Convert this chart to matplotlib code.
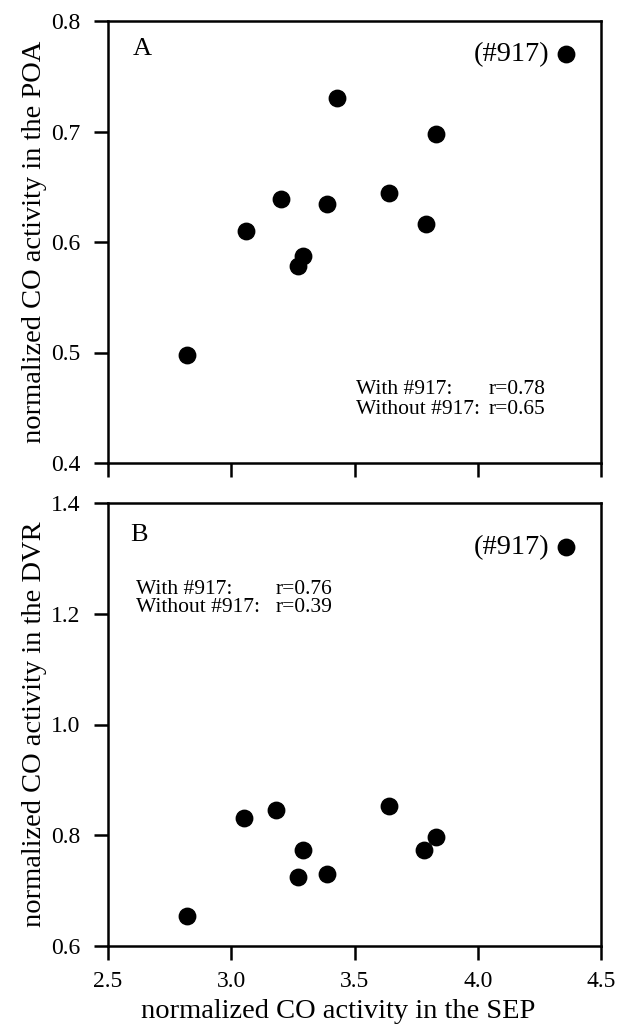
import matplotlib
matplotlib.use("Agg")
import matplotlib.pyplot as plt

# Data
sep_a = [2.82, 3.06, 3.20, 3.27, 3.29, 3.39, 3.43, 3.64, 3.79, 3.83, 4.36]
poa = [0.498, 0.610, 0.639, 0.578, 0.587, 0.634, 0.730, 0.644, 0.616, 0.698, 0.770]
sep_b = [2.82, 3.05, 3.18, 3.27, 3.29, 3.39, 3.64, 3.78, 3.83, 4.36]
dvr = [0.655, 0.832, 0.845, 0.725, 0.773, 0.730, 0.852, 0.773, 0.797, 1.320]
x_ticks = [2.5, 3.0, 3.5, 4.0, 4.5]
x_ticklabels = ["2.5", "3.0", "3.5", "4.0", "4.5"]
ya_ticks = [0.4, 0.5, 0.6, 0.7, 0.8]
ya_ticklabels = ["0.4", "0.5", "0.6", "0.7", "0.8"]
yb_ticks = [0.6, 0.8, 1.0, 1.2, 1.4]
yb_ticklabels = ["0.6", "0.8", "1.0", "1.2", "1.4"]
outlier_label = "(#917)"
stats_a = [("With #917:", "r=0.78"), ("Without #917:", "r=0.65")]
stats_b = [("With #917:", "r=0.76"), ("Without #917:", "r=0.39")]

plt.rcParams['font.family'] = ['Liberation Serif', 'DejaVu Serif']
W, H = 621, 1032
fig = plt.figure(figsize=(W / 100, H / 100), dpi=100)

def px_axes(x0, y0, x1, y1):
    return fig.add_axes([x0 / W, 1 - y1 / H, (x1 - x0) / W, (y1 - y0) / H])

axA = px_axes(108, 21, 601, 463)
axB = px_axes(108, 503, 601, 946)

TICK_FS = 17

def style(ax, yt, ytl, ylim, show_x):
    ax.set_xlim(2.5, 4.5)
    ax.set_ylim(*ylim)
    ax.set_xticks(x_ticks)
    ax.set_yticks(yt)
    ax.set_yticklabels(ytl, fontsize=TICK_FS)
    if show_x:
        ax.set_xticklabels(x_ticklabels, fontsize=TICK_FS)
    else:
        ax.set_xticklabels([])
    for s in ax.spines.values():
        s.set_linewidth(1.8)
    ax.tick_params(direction='out', length=10, width=1.8)
    ax.tick_params(axis='y', pad=10)
    ax.tick_params(axis='x', pad=8)

style(axA, ya_ticks, ya_ticklabels, (0.4, 0.8), False)
style(axB, yb_ticks, yb_ticklabels, (0.6, 1.4), True)

axA.scatter(sep_a, poa, s=140, color='black', zorder=3)
axB.scatter(sep_b, dvr, s=140, color='black', zorder=3)

axA.set_ylabel("normalized CO activity in the POA", fontsize=20.5)
axB.set_ylabel("normalized CO activity in the DVR", fontsize=20.5)
axB.set_xlabel("normalized CO activity in the SEP", fontsize=20.5)
for ax in (axA, axB):
    ax.yaxis.set_label_coords((35 - 108) / 493, 0.5)
    ax.yaxis.label.set_va('center')
axB.xaxis.set_label_coords((338 - 108) / 493, -(1011 - 946) / 443)
axB.xaxis.label.set_va('center')

axA.text(0.051, 0.937, "A", transform=axA.transAxes, fontsize=19, va='center', ha='left')
axB.text(0.045, 0.928, "B", transform=axB.transAxes, fontsize=19, va='center', ha='left')

axA.annotate(outlier_label, (sep_a[-1], poa[-1]), xytext=(-12, 0), textcoords='offset points',
             ha='right', va='center', fontsize=20.5)
axB.annotate(outlier_label, (sep_b[-1], dvr[-1]), xytext=(-12, 0), textcoords='offset points',
             ha='right', va='center', fontsize=20.5)

for ax, stats, x0, x1, ys in [(axA, stats_a, 0.503, 0.773, [0.167, 0.122]),
                              (axB, stats_b, 0.057, 0.341, [0.804, 0.765])]:
    for (lab, r), y in zip(stats, ys):
        ax.text(x0, y, lab, transform=ax.transAxes, fontsize=15.5, va='center', ha='left')
        ax.text(x1, y, r, transform=ax.transAxes, fontsize=15.5, va='center', ha='left')

fig.savefig("out.png", dpi=100)
